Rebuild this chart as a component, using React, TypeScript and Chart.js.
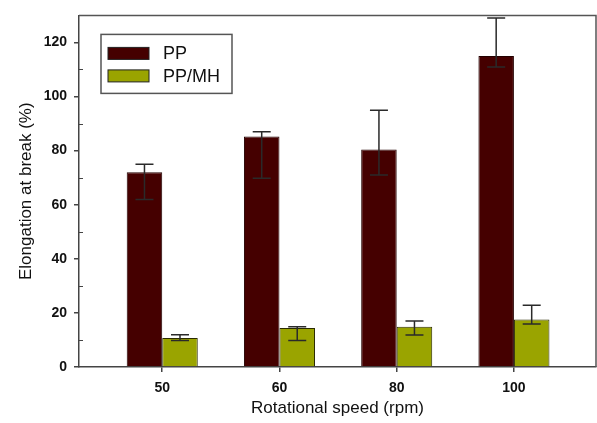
import { useEffect, useRef } from "react";
import { Chart, registerables } from "chart.js";

Chart.register(...registerables);

const categories = ["50", "60", "80", "100"];
const categoryPositions = [1, 2, 3, 4];
const seriesLabels = ["PP", "PP/MH"];
const ppValues = [72, 85.2, 80.4, 115];
const ppErrLow = [61.9, 69.8, 71, 110.9];
const ppErrHigh = [75, 87, 94.9, 129];
const pmhValues = [10.75, 14.4, 14.85, 17.6];
const pmhErrLow = [9.8, 9.8, 11.8, 15.9];
const pmhErrHigh = [11.95, 14.85, 17, 22.8];
const yTickValues = [0, 20, 40, 60, 80, 100, 120];
const yMinorTickValues = [10, 30, 50, 70, 90, 110];

const PP_COLOR = "#450000";
const PMH_COLOR = "#9aa400";
const FONT = "'Liberation Sans', Arial, sans-serif";

const errLows = [ppErrLow, pmhErrLow];
const errHighs = [ppErrHigh, pmhErrHigh];

const decorPlugin = {
  id: "decor",
  afterDatasetsDraw(chart: any) {
    const ctx = chart.ctx;
    const y = chart.scales.y;
    const area = chart.chartArea;
    ctx.save();
    // error bars
    ctx.strokeStyle = "#2a2a2a";
    ctx.lineWidth = 1.5;
    chart.data.datasets.forEach((_ds: any, i: number) => {
      const meta = chart.getDatasetMeta(i);
      meta.data.forEach((bar: any, j: number) => {
        const lo = y.getPixelForValue(errLows[i][j]);
        const hi = y.getPixelForValue(errHighs[i][j]);
        const cx = bar.x;
        const half = 9;
        ctx.beginPath();
        ctx.moveTo(cx, lo);
        ctx.lineTo(cx, hi);
        ctx.moveTo(cx - half, lo);
        ctx.lineTo(cx + half, lo);
        ctx.moveTo(cx - half, hi);
        ctx.lineTo(cx + half, hi);
        ctx.stroke();
      });
    });
    // frame top & right
    ctx.strokeStyle = "#555";
    ctx.lineWidth = 1.5;
    ctx.beginPath();
    ctx.moveTo(area.left, area.top);
    ctx.lineTo(area.right, area.top);
    ctx.lineTo(area.right, area.bottom);
    ctx.stroke();
    // minor ticks inside
    ctx.strokeStyle = "#444";
    ctx.lineWidth = 1;
    yMinorTickValues.forEach((v) => {
      const py = Math.round(y.getPixelForValue(v)) + 0.5;
      ctx.beginPath();
      ctx.moveTo(area.left, py);
      ctx.lineTo(area.left + 4, py);
      ctx.stroke();
    });
    // legend
    const lx = area.left + 22;
    const ly = area.top + 19;
    const lw = 131;
    const lh = 59;
    ctx.fillStyle = "#fff";
    ctx.fillRect(lx, ly, lw, lh);
    ctx.strokeStyle = "#555";
    ctx.lineWidth = 1.5;
    ctx.strokeRect(lx, ly, lw, lh);
    const colors = [PP_COLOR, PMH_COLOR];
    const rowY = [ly + 19, ly + 41.5];
    ctx.font = `18px ${FONT}`;
    ctx.textBaseline = "middle";
    ctx.textAlign = "left";
    seriesLabels.forEach((label, i) => {
      ctx.fillStyle = colors[i];
      ctx.fillRect(lx + 7, rowY[i] - 6, 41, 12);
      ctx.strokeStyle = "#222";
      ctx.lineWidth = 1;
      ctx.strokeRect(lx + 7, rowY[i] - 6, 41, 12);
      ctx.fillStyle = "#111";
      ctx.fillText(label, lx + 62, rowY[i] + 1);
    });
    ctx.restore();
  },
};

export default function App() {
  const ref = useRef<HTMLCanvasElement | null>(null);
  useEffect(() => {
    document.body.style.margin = "0";
    const canvas = ref.current!;
    const chart = new Chart(canvas, {
      type: "bar",
      data: {
        datasets: [
          {
            label: seriesLabels[0],
            data: categoryPositions.map((x, i) => ({ x, y: ppValues[i] })),
            backgroundColor: PP_COLOR,
            borderColor: "#220000",
            borderWidth: 1,
          },
          {
            label: seriesLabels[1],
            data: categoryPositions.map((x, i) => ({ x, y: pmhValues[i] })),
            backgroundColor: PMH_COLOR,
            borderColor: "#2a2a00",
            borderWidth: 1,
          },
        ],
      },
      options: {
        responsive: false,
        animation: false,
        categoryPercentage: 0.606,
        barPercentage: 1,
        layout: { padding: { top: 8, right: 1, left: 0, bottom: 0 } },
        plugins: { legend: { display: false }, tooltip: { enabled: false } },
        scales: {
          x: {
            type: "linear",
            offset: false,
            min: 0.29,
            max: 4.7,
            afterBuildTicks: (s: any) => {
              s.ticks = categoryPositions.map((v) => ({ value: v }));
            },
            afterFit: (s: any) => {
              s.height = 56;
            },
            ticks: {
              callback: (v: any) => categories[categoryPositions.indexOf(Number(v))] ?? "",
              color: "#111",
              font: { family: FONT, size: 14, weight: "bold" },
              padding: 8,
              maxRotation: 0,
            },
            grid: { display: true, offset: false, drawOnChartArea: false, drawTicks: true, tickLength: 5, color: "#444", lineWidth: 1.5 },
            border: { display: true, color: "#444", width: 1.5 },
            title: {
              display: true,
              text: "Rotational speed (rpm)",
              color: "#111",
              font: { family: FONT, size: 17 },
              padding: { top: 0, bottom: 4 },
            },
          },
          y: {
            min: 0,
            max: 130,
            afterBuildTicks: (s: any) => {
              s.ticks = yTickValues.map((v) => ({ value: v }));
            },
            afterFit: (s: any) => {
              s.width = 79;
            },
            ticks: {
              color: "#111",
              font: { family: FONT, size: 14, weight: "bold" },
              padding: 7,
            },
            grid: { display: true, drawOnChartArea: false, drawTicks: true, tickLength: 5, color: "#444", lineWidth: 1.5 },
            border: { display: true, color: "#444", width: 1.5 },
            title: {
              display: true,
              text: "Elongation at break (%)",
              color: "#111",
              font: { family: FONT, size: 17 },
              padding: { top: 16, bottom: 0 },
            },
          },
        },
      } as any,
      plugins: [decorPlugin],
    });
    return () => chart.destroy();
  }, []);
  return (
    <canvas
      ref={ref}
      width={597}
      height={423}
      style={{ display: "block", position: "absolute", left: 0, top: 0, background: "#fff" }}
    />
  );
}
